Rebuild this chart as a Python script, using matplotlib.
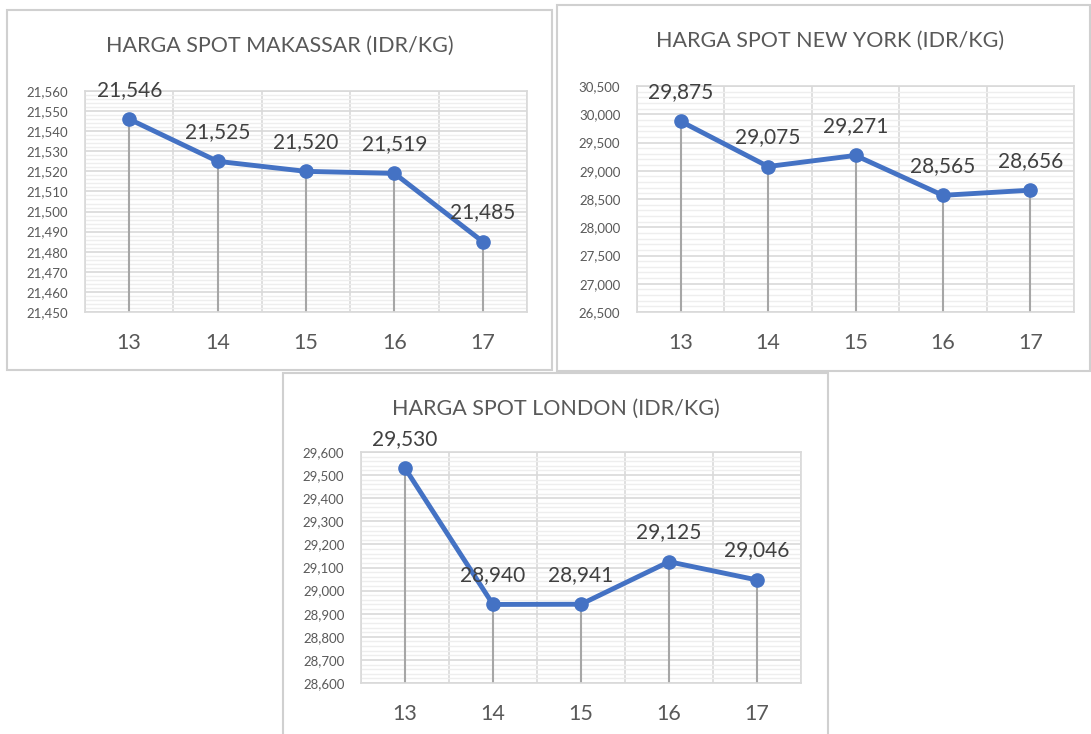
import matplotlib
matplotlib.use("Agg")
import matplotlib.pyplot as plt
from matplotlib.patches import Rectangle
from matplotlib.ticker import MultipleLocator, FuncFormatter

plt.rcParams['font.family'] = ['Lato', 'DejaVu Sans']

days = [13, 14, 15, 16, 17]

makassar = [21546, 21525, 21520, 21519, 21485]
new_york = [29875, 29075, 29271, 28565, 28656]
london = [29530, 28940, 28941, 29125, 29046]

titles = ["HARGA SPOT MAKASSAR (IDR/KG)", "HARGA SPOT NEW YORK (IDR/KG)",
          "HARGA SPOT LONDON (IDR/KG)"]

W, H = 1091, 734
BLUE = "#4472C4"
GRID = "#d9d9d9"
MINOR = "#eeeeee"
DROP = "#a6a6a6"
TXT = "#595959"
LBL = "#404040"

fig = plt.figure(figsize=(W / 100, H / 100), dpi=100)


def box(x0, y0, x1, y1):
    fig.patches.append(Rectangle((x0 / W, 1 - y1 / H), (x1 - x0) / W, (y1 - y0) / H,
                                 transform=fig.transFigure, fill=False,
                                 edgecolor="#d0d0d0", lw=1.5))


def chart(px, values, title, ylim, major, minor, title_xy):
    x0, y0, x1, y1 = px
    ax = fig.add_axes([x0 / W, 1 - y1 / H, (x1 - x0) / W, (y1 - y0) / H])
    ax.set_xlim(12.5, 17.5)
    ax.set_ylim(*ylim)
    ax.yaxis.set_major_locator(MultipleLocator(major))
    ax.yaxis.set_minor_locator(MultipleLocator(minor))
    ax.yaxis.set_major_formatter(FuncFormatter(lambda v, p: f"{v:,.0f}"))
    ax.set_xticks(days)
    ax.xaxis.set_minor_locator(MultipleLocator(1, offset=0.5))
    ax.grid(which="minor", axis="y", color=MINOR, lw=1)
    ax.grid(which="major", axis="y", color=GRID, lw=1.2)
    ax.grid(which="minor", axis="x", color=GRID, lw=1.2)
    for s in ax.spines.values():
        s.set_color(GRID)
        s.set_linewidth(1.2)
    ax.tick_params(which="both", length=0)
    ax.tick_params(axis="y", labelsize=9.5, labelcolor=TXT, pad=12)
    ax.tick_params(axis="x", labelsize=15.5, labelcolor=TXT, pad=15)
    ax.vlines(days, ylim[0], values, color=DROP, lw=1.5, zorder=2)
    ax.plot(days, values, color=BLUE, lw=3.5, marker="o", ms=9.5, zorder=3,
            solid_capstyle="round")
    for d, v in zip(days, values):
        ax.annotate(f"{v:,}", (d, v), xytext=(0, 14), textcoords="offset points",
                    ha="center", va="bottom", fontsize=15, color=LBL,
                    annotation_clip=False)
    fig.text(title_xy[0] / W, 1 - title_xy[1] / H, title, ha="center", va="center",
             fontsize=15.5, color=TXT)
    return ax


box(7, 10, 552, 370)
box(557, 5, 1090, 371)
box(283, 373, 828, 740)

chart((85, 91, 527, 312), makassar, titles[0], (21450, 21560), 10, 2, (280, 46))
chart((637, 86, 1074, 312), new_york, titles[1], (26500, 30500), 500, 100, (830, 41))
chart((361, 452, 801, 683), london, titles[2], (28600, 29600), 100, 20, (556, 409))

fig.savefig("out.png", dpi=100, facecolor="white")
